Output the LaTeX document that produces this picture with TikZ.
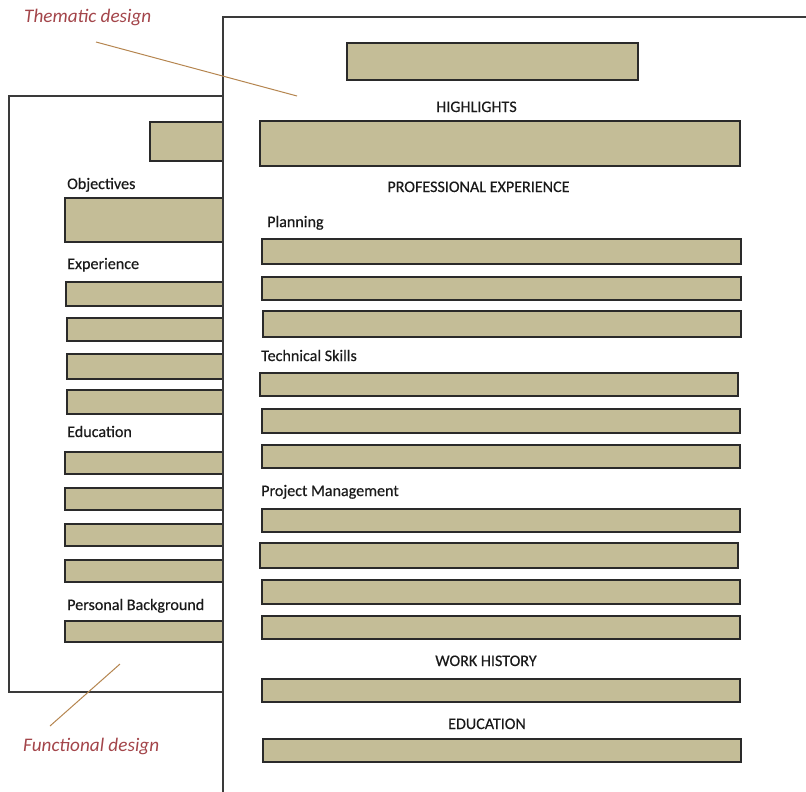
\documentclass[tikz,border=0pt]{standalone}
\usepackage{fontspec}
\setmainfont{Carlito}
\newfontfamily\lblfont{Carlito}[FakeBold=0.35]
\definecolor{tanfill}{HTML}{C4BD97}
\definecolor{barline}{HTML}{2A2A2A}
\definecolor{pageline}{HTML}{3A3A3A}
\definecolor{txt}{HTML}{1A1A1A}
\definecolor{notecol}{HTML}{A3454A}
\definecolor{ptrcol}{HTML}{B5854F}
\begin{document}
\begin{tikzpicture}[x=1pt,y=-1pt,
  bar/.style={draw=barline, fill=tanfill, line width=1.2pt},
  page/.style={draw=pageline, line width=1.2pt},
  lbl/.style={inner sep=0pt, anchor=base west, font=\lblfont\fontsize{16.1}{19}\selectfont, text=txt},
  ttl/.style={lbl, anchor=base},
  note/.style={inner sep=0pt, anchor=base west, font=\fontsize{19.2}{22}\selectfont\itshape, text=notecol},
  pointer/.style={draw=ptrcol, line width=1pt}]
\useasboundingbox (0,0) rectangle (806,792);
% ---- left page (functional design)
\draw[page, fill=white] (9,96) rectangle (240,692);
\draw[bar] (150,122) rectangle (240,161);
\node[lbl] (obj) at (67,189) {Objectives};
\draw[bar] (65,198) rectangle (240,242);
\node[lbl] (exp) at (67,269) {Experience};
\draw[bar] (66,282) rectangle (240,306);
\draw[bar] (67,318) rectangle (240,341);
\draw[bar] (67,354) rectangle (240,379);
\draw[bar] (67,390) rectangle (240,414);
\node[lbl] (edu) at (67,437) {Education};
\draw[bar] (65,452) rectangle (240,474);
\draw[bar] (65,488) rectangle (240,510);
\draw[bar] (65,524) rectangle (240,546);
\draw[bar] (65,560) rectangle (240,582);
\node[lbl] (pers) at (67,610) {Personal Background};
\draw[bar] (65,621) rectangle (240,642);
% ---- right page (thematic design)
\fill[white] (223,17) rectangle (812,798);
\draw[page] (223,798) -- (223,17) -- (812,17);
\draw[bar] (347,43) rectangle (638,80);
\node[ttl] (hl) at (476.5,112) {HIGHLIGHTS};
\draw[bar] (260,121) rectangle (740,166);
\node[ttl] (pe) at (478.5,192) {PROFESSIONAL EXPERIENCE};
\node[lbl] (plan) at (267,227) {Planning};
\draw[bar] (262,239) rectangle (741,264);
\draw[bar] (262,277) rectangle (741,300);
\draw[bar] (263,311) rectangle (741,337);
\node[lbl] (tech) at (261,361) {Technical Skills};
\draw[bar] (260,373) rectangle (738,396);
\draw[bar] (262,409) rectangle (740,433);
\draw[bar] (262,445) rectangle (740,468);
\node[lbl] (pm) at (261,496) {Project Management};
\draw[bar] (262,509) rectangle (740,532);
\draw[bar] (260,543) rectangle (738,568);
\draw[bar] (262,580) rectangle (740,604);
\draw[bar] (262,616) rectangle (740,639);
\node[ttl] (wh) at (486,666) {WORK HISTORY};
\draw[bar] (262,679) rectangle (740,702);
\node[ttl] (ed2) at (487,729) {EDUCATION};
\draw[bar] (263,739) rectangle (741,762);
% ---- annotations
\node[note] (them) at (24,23) {Thematic design};
\node[note] (func) at (23,751) {Functional design};
\coordinate (thA) at (96,42);
\coordinate (thB) at (297,96);
\coordinate (fuA) at (120,664);
\coordinate (fuB) at (50,726);
\draw[pointer] (thA) -- (thB);
\draw[pointer] (fuA) -- (fuB);
\end{tikzpicture}
\end{document}
